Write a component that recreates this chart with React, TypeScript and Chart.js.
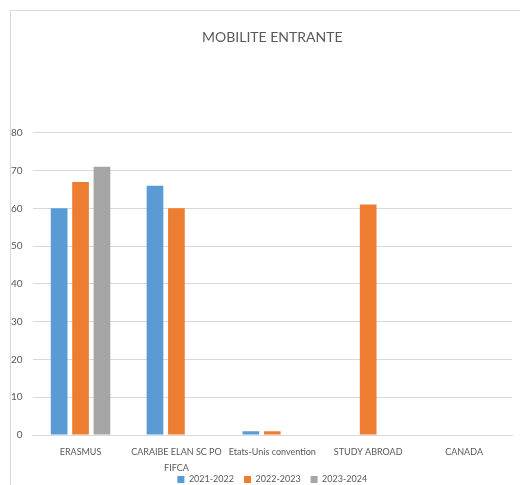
import React, { useEffect, useRef } from "react";
import { Chart, registerables } from "chart.js";

Chart.register(...registerables);

const categories: (string | string[])[] = [
  "ERASMUS",
  ["CARAIBE ELAN SC PO", "FIFCA"],
  "Etats-Unis convention",
  "STUDY ABROAD",
  "CANADA",
];
const seriesNames = ["2021-2022", "2022-2023", "2023-2024"];
const values2021 = [60, 66, 1, 0, 0];
const values2022 = [67, 60, 1, 61, 0];
const values2023 = [71, 0, 0, 0, 0];
const yTicks = [0, 10, 20, 30, 40, 50, 60, 70, 80];

const colors = ["#5B9BD5", "#ED7D31", "#A5A5A5"];
const FONT = "Lato, 'Open Sans', sans-serif";

const framePlugin = {
  id: "frame",
  beforeDraw(chart: any) {
    const ctx = chart.ctx;
    ctx.save();
    ctx.strokeStyle = "#d9d9d9";
    ctx.lineWidth = 1;
    ctx.beginPath();
    ctx.moveTo(10, 10.5);
    ctx.lineTo(520, 10.5);
    ctx.moveTo(10.5, 10);
    ctx.lineTo(10.5, 485);
    ctx.stroke();
    ctx.restore();
  },
  afterLayout(chart: any) {
    const lg = chart.legend;
    if (lg) {
      lg.top -= 12;
      lg.bottom -= 12;
    }
  },
};

export default function App() {
  const ref = useRef<HTMLCanvasElement>(null);
  useEffect(() => {
    if (!ref.current) return;
    const all = [values2021, values2022, values2023];
    const chart = new Chart(ref.current, {
      type: "bar",
      data: {
        labels: categories,
        datasets: all.map((v, i) => ({
          label: seriesNames[i],
          data: v,
          backgroundColor: colors[i],
          borderWidth: 0,
          categoryPercentage: 0.67,
          barPercentage: 0.78,
        })),
      },
      options: {
        responsive: false,
        animation: false,
        layout: { padding: { left: 1, right: 8, top: 0, bottom: -21 } },
        plugins: {
          title: {
            display: true,
            fullSize: false,
            text: "MOBILITE ENTRANTE",
            color: "#595959",
            font: { family: FONT, size: 14, weight: "normal", lineHeight: 1.2 },
            padding: { top: 29, bottom: 87 },
          },
          legend: {
            position: "bottom",
            fullSize: false,
            labels: {
              boxWidth: 7,
              boxHeight: 7,
              padding: 10,
              color: "#595959",
              font: { family: FONT, size: 9 },
            },
          },
          tooltip: { enabled: false },
        },
        scales: {
          x: {
            grid: { display: false },
            border: { display: true, color: "#d9d9d9" },
            ticks: {
              color: "#595959",
              font: { family: FONT, size: 9, lineHeight: "16px" },
              maxRotation: 0,
              autoSkip: false,
              padding: 1,
            },
          },
          y: {
            min: 0,
            max: 80,
            afterBuildTicks: (axis: any) => {
              axis.ticks = yTicks.map((v) => ({ value: v }));
            },
            grid: { color: "#d9d9d9", drawTicks: false },
            border: { display: false },
            ticks: {
              color: "#595959",
              font: { family: FONT, size: 10 },
              padding: 10,
            },
          },
        },
      },
      plugins: [framePlugin],
    });
    return () => chart.destroy();
  }, []);
  return (
    <div style={{ position: "absolute", left: 0, top: 0, width: 520, height: 485, background: "#fff" }}>
      <canvas ref={ref} width={520} height={485} />
    </div>
  );
}
